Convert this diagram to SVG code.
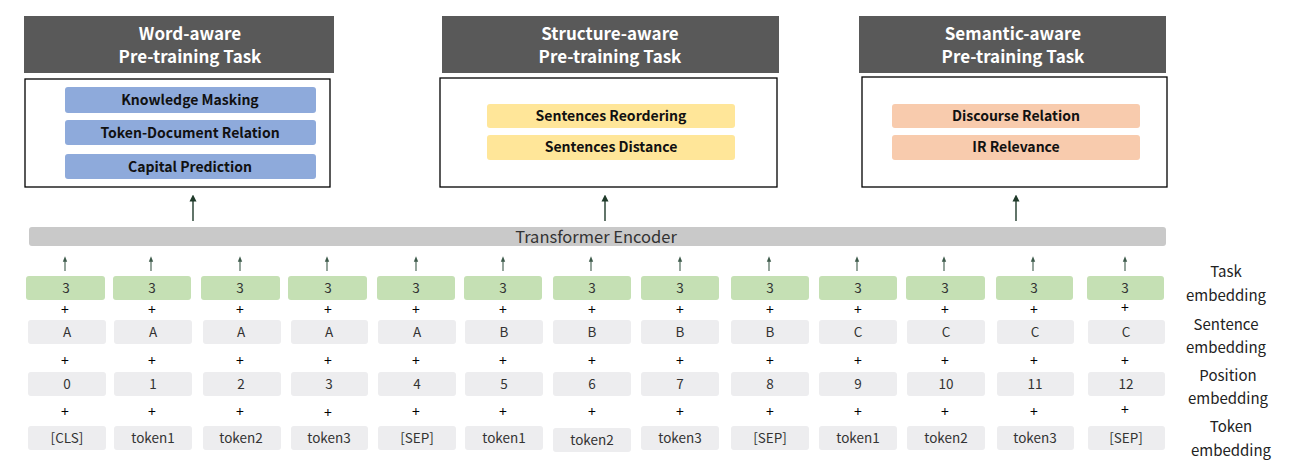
<svg xmlns="http://www.w3.org/2000/svg" width="1289" height="472" viewBox="0 0 1289 472">
<style>
.hdr{fill:#595959}
.hdrt{font-family:"Noto Sans CJK SC","Noto Sans",sans-serif;font-size:17px;font-weight:bold;fill:#fff;text-anchor:middle}
.frame{fill:#fff;stroke:#000;stroke-width:1.3}
.pill{font-family:"Noto Sans CJK SC","Noto Sans",sans-serif;font-size:14px;font-weight:bold;fill:#111;text-anchor:middle}
.blue{fill:#8EAADB}
.yel{fill:#FFE699}
.org{fill:#F8CBAD}
.green{fill:#C5E0B4}
.cell{fill:#EDEDEF}
.ct{font-family:"Noto Sans CJK SC","Noto Sans",sans-serif;font-size:13.5px;fill:#333;text-anchor:middle}
.plus{font-family:"Noto Sans CJK SC","Noto Sans",sans-serif;font-size:14px;fill:#000;text-anchor:middle}
.lbl{font-family:"Noto Sans CJK SC","Noto Sans",sans-serif;font-size:15px;fill:#222;text-anchor:middle}
.bar{fill:#C9C9C9}
.bart{font-family:"Noto Sans CJK SC","Noto Sans",sans-serif;font-size:16.5px;fill:#333;text-anchor:middle}
.arr{stroke:#1f3a2a;stroke-width:1.4;fill:none;marker-end:url(#ah)}
.sarr{stroke:#3d5a4a;stroke-width:1.1;fill:none;marker-end:url(#sh)}
</style>
<defs>
<marker id="ah" viewBox="0 0 10 10" refX="5" refY="5" markerWidth="5" markerHeight="6" orient="auto"><path d="M0,0 L10,5 L0,10 z" fill="#1f3a2a"/></marker>
<marker id="sh" viewBox="0 0 10 10" refX="5" refY="5" markerWidth="5" markerHeight="5" orient="auto"><path d="M0,1 L10,5 L0,9 z" fill="#3d5a4a"/></marker>
</defs>
<rect width="1289" height="472" fill="#fff"/>

<g id="word-aware">
<rect class="hdr" x="24" y="16" width="310" height="57"/>
<text class="hdrt" x="190" y="40">Word-aware</text>
<text class="hdrt" x="190" y="63">Pre-training Task</text>
<rect class="frame" x="25" y="79" width="305" height="108"/>
<rect class="blue" x="65" y="87" width="251" height="26" rx="3"/>
<text class="pill" x="190" y="105">Knowledge Masking</text>
<rect class="blue" x="65" y="120" width="251" height="25" rx="3"/>
<text class="pill" x="190" y="138">Token-Document Relation</text>
<rect class="blue" x="65" y="154" width="251" height="25" rx="3"/>
<text class="pill" x="190" y="172">Capital Prediction</text>
</g>

<g id="structure-aware">
<rect class="hdr" x="442" y="16" width="337" height="57"/>
<text class="hdrt" x="610" y="40">Structure-aware</text>
<text class="hdrt" x="610" y="63">Pre-training Task</text>
<rect class="frame" x="440" y="78" width="337" height="109"/>
<rect class="yel" x="487" y="104" width="248" height="24" rx="3"/>
<text class="pill" x="611" y="121">Sentences Reordering</text>
<rect class="yel" x="487" y="135" width="248" height="25" rx="3"/>
<text class="pill" x="611" y="152">Sentences Distance</text>
</g>

<g id="semantic-aware">
<rect class="hdr" x="859" y="16" width="307" height="57"/>
<text class="hdrt" x="1013" y="40">Semantic-aware</text>
<text class="hdrt" x="1013" y="63">Pre-training Task</text>
<rect class="frame" x="862" y="77" width="305" height="110"/>
<rect class="org" x="892" y="104" width="248" height="24" rx="3"/>
<text class="pill" x="1016" y="121">Discourse Relation</text>
<rect class="org" x="892" y="135" width="248" height="25" rx="3"/>
<text class="pill" x="1016" y="152">IR Relevance</text>
</g>

<g id="transformer">
<rect class="bar" x="29" y="227" width="1137" height="19" rx="3"/>
<text class="bart" x="596" y="243">Transformer Encoder</text>
</g>

<g id="labels">
<text class="lbl" x="1226" y="277">Task</text>
<text class="lbl" x="1226" y="301">embedding</text>
<text class="lbl" x="1226" y="330">Sentence</text>
<text class="lbl" x="1226" y="353">embedding</text>
<text class="lbl" x="1228" y="381">Position</text>
<text class="lbl" x="1228" y="404">embedding</text>
<text class="lbl" x="1231" y="432">Token</text>
<text class="lbl" x="1231" y="456">embedding</text>
</g>

<g id="col0"><rect class="green" x="26" y="276" width="79" height="24" rx="3"/><text class="ct" x="66" y="293">3</text><rect class="cell" x="28" y="320" width="78" height="24" rx="3"/><text class="ct" x="67" y="337">A</text><rect class="cell" x="28" y="372" width="78" height="24" rx="3"/><text class="ct" x="67" y="389">0</text><rect class="cell" x="28" y="426" width="78" height="24" rx="3"/><text class="ct" x="67" y="443">[CLS]</text></g>
<g id="col1"><rect class="green" x="113" y="276" width="78" height="24" rx="3"/><text class="ct" x="152" y="293">3</text><rect class="cell" x="114" y="320" width="78" height="24" rx="3"/><text class="ct" x="153" y="337">A</text><rect class="cell" x="114" y="372" width="78" height="24" rx="3"/><text class="ct" x="153" y="389">1</text><rect class="cell" x="114" y="426" width="78" height="24" rx="3"/><text class="ct" x="153" y="443">token1</text></g>
<g id="col2"><rect class="green" x="201" y="276" width="79" height="24" rx="3"/><text class="ct" x="240" y="293">3</text><rect class="cell" x="203" y="320" width="78" height="24" rx="3"/><text class="ct" x="241" y="337">A</text><rect class="cell" x="203" y="372" width="78" height="24" rx="3"/><text class="ct" x="241" y="389">2</text><rect class="cell" x="203" y="426" width="78" height="24" rx="3"/><text class="ct" x="241" y="443">token2</text></g>
<g id="col3"><rect class="green" x="288" y="276" width="79" height="24" rx="3"/><text class="ct" x="328" y="293">3</text><rect class="cell" x="291" y="320" width="77" height="24" rx="3"/><text class="ct" x="329" y="337">A</text><rect class="cell" x="291" y="372" width="77" height="24" rx="3"/><text class="ct" x="329" y="389">3</text><rect class="cell" x="291" y="426" width="77" height="24" rx="3"/><text class="ct" x="329" y="443">token3</text></g>
<g id="col4"><rect class="green" x="377" y="276" width="78" height="24" rx="3"/><text class="ct" x="416" y="293">3</text><rect class="cell" x="378" y="320" width="78" height="24" rx="3"/><text class="ct" x="417" y="337">A</text><rect class="cell" x="378" y="372" width="78" height="24" rx="3"/><text class="ct" x="417" y="389">4</text><rect class="cell" x="378" y="426" width="78" height="24" rx="3"/><text class="ct" x="417" y="443">[SEP]</text></g>
<g id="col5"><rect class="green" x="464" y="276" width="78" height="24" rx="3"/><text class="ct" x="503" y="293">3</text><rect class="cell" x="465" y="320" width="78" height="24" rx="3"/><text class="ct" x="504" y="337">B</text><rect class="cell" x="465" y="372" width="78" height="24" rx="3"/><text class="ct" x="504" y="389">5</text><rect class="cell" x="465" y="426" width="78" height="24" rx="3"/><text class="ct" x="504" y="443">token1</text></g>
<g id="col6"><rect class="green" x="553" y="276" width="78" height="24" rx="3"/><text class="ct" x="592" y="293">3</text><rect class="cell" x="553" y="320" width="78" height="24" rx="3"/><text class="ct" x="592" y="337">B</text><rect class="cell" x="553" y="372" width="78" height="24" rx="3"/><text class="ct" x="592" y="389">6</text><rect class="cell" x="553" y="428" width="78" height="24" rx="3"/><text class="ct" x="592" y="445">token2</text></g>
<g id="col7"><rect class="green" x="641" y="276" width="78" height="24" rx="3"/><text class="ct" x="680" y="293">3</text><rect class="cell" x="641" y="320" width="78" height="24" rx="3"/><text class="ct" x="680" y="337">B</text><rect class="cell" x="641" y="372" width="78" height="24" rx="3"/><text class="ct" x="680" y="389">7</text><rect class="cell" x="641" y="426" width="78" height="24" rx="3"/><text class="ct" x="680" y="443">token3</text></g>
<g id="col8"><rect class="green" x="731" y="276" width="78" height="24" rx="3"/><text class="ct" x="770" y="293">3</text><rect class="cell" x="731" y="320" width="78" height="24" rx="3"/><text class="ct" x="770" y="337">B</text><rect class="cell" x="731" y="372" width="78" height="24" rx="3"/><text class="ct" x="770" y="389">8</text><rect class="cell" x="731" y="426" width="78" height="24" rx="3"/><text class="ct" x="770" y="443">[SEP]</text></g>
<g id="col9"><rect class="green" x="819" y="276" width="78" height="24" rx="3"/><text class="ct" x="858" y="293">3</text><rect class="cell" x="819" y="320" width="78" height="24" rx="3"/><text class="ct" x="858" y="337">C</text><rect class="cell" x="819" y="372" width="78" height="24" rx="3"/><text class="ct" x="858" y="389">9</text><rect class="cell" x="819" y="426" width="78" height="24" rx="3"/><text class="ct" x="858" y="443">token1</text></g>
<g id="col10"><rect class="green" x="906" y="276" width="79" height="24" rx="3"/><text class="ct" x="945" y="293">3</text><rect class="cell" x="907" y="320" width="78" height="24" rx="3"/><text class="ct" x="946" y="337">C</text><rect class="cell" x="907" y="372" width="78" height="24" rx="3"/><text class="ct" x="946" y="389">10</text><rect class="cell" x="907" y="426" width="78" height="24" rx="3"/><text class="ct" x="946" y="443">token2</text></g>
<g id="col11"><rect class="green" x="996" y="276" width="77" height="24" rx="3"/><text class="ct" x="1034" y="293">3</text><rect class="cell" x="997" y="320" width="77" height="24" rx="3"/><text class="ct" x="1035" y="337">C</text><rect class="cell" x="997" y="372" width="77" height="24" rx="3"/><text class="ct" x="1035" y="389">11</text><rect class="cell" x="997" y="426" width="77" height="24" rx="3"/><text class="ct" x="1035" y="443">token3</text></g>
<g id="col12"><rect class="green" x="1087" y="276" width="77" height="24" rx="3"/><text class="ct" x="1125" y="293">3</text><rect class="cell" x="1088" y="320" width="77" height="24" rx="3"/><text class="ct" x="1126" y="337">C</text><rect class="cell" x="1088" y="372" width="77" height="24" rx="3"/><text class="ct" x="1126" y="389">12</text><rect class="cell" x="1088" y="426" width="77" height="24" rx="3"/><text class="ct" x="1126" y="443">[SEP]</text></g>

<g id="plus">
<text class="plus" x="65" y="315">+</text><text class="plus" x="152" y="315">+</text><text class="plus" x="240" y="315">+</text><text class="plus" x="328" y="315">+</text><text class="plus" x="416" y="315">+</text><text class="plus" x="503" y="315">+</text><text class="plus" x="592" y="315">+</text><text class="plus" x="680" y="315">+</text><text class="plus" x="770" y="315">+</text><text class="plus" x="858" y="315">+</text><text class="plus" x="945" y="315">+</text><text class="plus" x="1034" y="315">+</text><text class="plus" x="1125" y="313">+</text>
<text class="plus" x="65" y="366">+</text><text class="plus" x="152" y="366">+</text><text class="plus" x="240" y="366">+</text><text class="plus" x="328" y="366">+</text><text class="plus" x="416" y="366">+</text><text class="plus" x="503" y="366">+</text><text class="plus" x="592" y="366">+</text><text class="plus" x="680" y="366">+</text><text class="plus" x="770" y="366">+</text><text class="plus" x="858" y="366">+</text><text class="plus" x="945" y="366">+</text><text class="plus" x="1034" y="366">+</text><text class="plus" x="1125" y="366">+</text>
<text class="plus" x="65" y="417">+</text><text class="plus" x="152" y="417">+</text><text class="plus" x="240" y="417">+</text><text class="plus" x="328" y="418">+</text><text class="plus" x="416" y="417">+</text><text class="plus" x="503" y="417">+</text><text class="plus" x="592" y="417">+</text><text class="plus" x="680" y="417">+</text><text class="plus" x="770" y="417">+</text><text class="plus" x="858" y="417">+</text><text class="plus" x="945" y="417">+</text><text class="plus" x="1034" y="417">+</text><text class="plus" x="1125" y="415">+</text>
</g>

<g id="connectors">
<line class="arr" x1="193" y1="221" x2="193" y2="198"/>
<line class="arr" x1="605" y1="221" x2="605" y2="198"/>
<line class="arr" x1="1016" y1="221" x2="1016" y2="198"/>
<line class="sarr" x1="65" y1="271" x2="65" y2="259"/>
<line class="sarr" x1="151" y1="271" x2="151" y2="259"/>
<line class="sarr" x1="240" y1="271" x2="240" y2="259"/>
<line class="sarr" x1="327" y1="271" x2="327" y2="259"/>
<line class="sarr" x1="416" y1="271" x2="416" y2="259"/>
<line class="sarr" x1="503" y1="271" x2="503" y2="259"/>
<line class="sarr" x1="591" y1="271" x2="591" y2="259"/>
<line class="sarr" x1="680" y1="271" x2="680" y2="259"/>
<line class="sarr" x1="769" y1="271" x2="769" y2="259"/>
<line class="sarr" x1="857" y1="271" x2="857" y2="259"/>
<line class="sarr" x1="944" y1="271" x2="944" y2="259"/>
<line class="sarr" x1="1033" y1="271" x2="1033" y2="259"/>
<line class="sarr" x1="1125" y1="271" x2="1125" y2="259"/>
</g>
</svg>
